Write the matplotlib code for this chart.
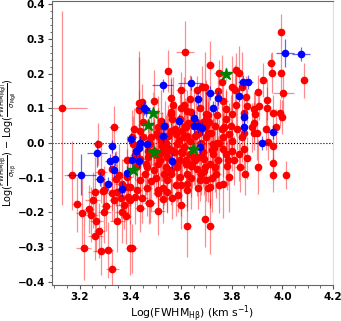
import matplotlib
matplotlib.use("Agg")
import matplotlib.pyplot as plt
from matplotlib.ticker import AutoMinorLocator

# red sample: Log FWHM(Hb), offset, and errors
red_x = [3.130, 3.335, 3.616, 3.548, 3.715, 3.994, 3.954, 3.957, 3.995, 3.922,
         4.086, 4.004, 3.902, 3.940, 3.841, 3.751, 3.761, 3.818, 3.828, 3.600,
         3.661, 3.684, 3.693, 3.802, 3.813, 3.559, 3.745, 3.636, 3.433, 3.434,
         3.445, 3.858, 3.861, 3.850, 3.893, 3.886, 3.909, 3.938, 3.961, 3.991,
         4.000, 3.889, 3.880, 3.976, 3.935, 3.899, 3.886, 3.850, 3.841, 3.944,
         3.848, 3.963, 3.861, 3.902, 3.963, 3.854, 3.963, 4.012,
         # core
         3.482, 3.520, 3.546, 3.584, 3.610, 3.636, 3.700, 3.725, 3.764, 3.790,
         3.802, 3.764, 3.687, 3.636, 3.597, 3.546, 3.507, 3.495, 3.533, 3.584,
         3.623, 3.661, 3.713, 3.745, 3.777, 3.802, 3.828, 3.738, 3.764, 3.700,
         3.623, 3.546, 3.597, 3.713, 3.751, 3.790, 3.834, 3.822, 3.796, 3.777,
         3.802, 3.777, 3.764, 3.815, 3.700, 3.674, 3.623, 3.610, 3.495, 3.629,
         3.604, 3.559, 3.700, 3.770, 3.520, 3.565, 3.661, 3.719, 3.495, 3.572,
         3.655, 3.783, 3.725, 3.610, 3.578, 3.507, 3.809, 3.674, 3.559,
         3.530, 3.590, 3.650, 3.680, 3.740, 3.620, 3.560, 3.470, 3.510, 3.690,
         3.730, 3.670, 3.540, 3.600, 3.760, 3.640, 3.580, 3.710, 3.500, 3.650,
         3.690, 3.620, 3.560, 3.735, 3.600, 3.665, 3.545, 3.785, 3.640, 3.705,
         # left side
         3.271, 3.432, 3.451, 3.419, 3.169, 3.284, 3.329, 3.342, 3.368, 3.400,
         3.438, 3.464, 3.259, 3.297, 3.348, 3.412, 3.438, 3.464, 3.355, 3.387,
         3.387, 3.425, 3.457, 3.438, 3.470, 3.477, 3.406, 3.392, 3.450, 3.415,
         # lower left
         3.188, 3.210, 3.216, 3.261, 3.278, 3.265, 3.236, 3.252, 3.291, 3.297,
         3.304, 3.329, 3.336, 3.365, 3.374, 3.384, 3.389, 3.400, 3.419, 3.425,
         3.445, 3.474, 3.284, 3.312, 3.329, 3.397, 3.406, 3.348, 3.361, 3.246,
         3.438,
         # lower middle
         3.479, 3.510, 3.510, 3.507, 3.527, 3.565, 3.587, 3.601, 3.625, 3.693,
         3.716, 3.546, 3.623, 3.706]
red_y = [0.100, 0.047, 0.262, 0.208, 0.225, 0.321, 0.230, 0.203, 0.201, 0.182,
         0.181, 0.144, 0.147, 0.125, 0.163, 0.201, 0.175, 0.211, 0.201, 0.154,
         0.152, 0.161, 0.163, 0.161, 0.154, 0.130, 0.149, 0.126, 0.116, 0.094,
         0.119, 0.132, 0.107, 0.088, 0.083, 0.097, 0.107, 0.102, 0.088, 0.088,
         0.075, 0.059, 0.045, 0.047, 0.040, 0.030, 0.030, 0.030, 0.016, 0.002,
         -0.017, -0.008, -0.043, -0.068, -0.058, -0.090, -0.091, -0.093,
         # core
         0.016, 0.007, -0.012, -0.003, 0.016, 0.007, 0.016, -0.003, 0.016, 0.026,
         0.007, -0.017, -0.027, -0.031, -0.050, -0.041, -0.060, -0.079, -0.089, -0.070,
         -0.089, -0.074, -0.060, -0.050, -0.031, -0.022, -0.031, -0.089, -0.117, -0.108,
         -0.117, -0.108, -0.098, -0.127, -0.122, -0.098, -0.070, 0.040, 0.050, 0.069,
         0.083, 0.097, 0.121, 0.111, 0.083, 0.102, 0.092, 0.111, 0.121, 0.059,
         0.035, 0.035, 0.050, 0.045, 0.064, 0.069, 0.026, 0.030, -0.022, -0.027,
         -0.050, -0.065, -0.031, -0.012, 0.026, 0.045, -0.050, -0.108, -0.079,
         -0.020, 0.010, -0.040, 0.000, 0.000, -0.060, -0.090, -0.040, 0.020, -0.080,
         -0.015, 0.030, 0.000, -0.025, 0.040, -0.100, -0.060, 0.060, -0.035, 0.065,
         -0.045, 0.045, 0.085, -0.070, -0.120, -0.130, -0.025, -0.050, -0.065, 0.080,
         # left side
         -0.003, 0.097, 0.016, -0.036, -0.093, -0.084, -0.074, -0.103, -0.117, -0.127,
         -0.108, -0.131, -0.141, -0.136, -0.141, -0.003, -0.046, -0.070, -0.093, -0.098,
         -0.050, -0.065, -0.089, 0.035, -0.022, -0.003, 0.016, -0.127, 0.060, 0.040,
         # lower left
         -0.177, -0.202, -0.304, -0.269, -0.253, -0.226, -0.190, -0.164, -0.139, -0.198,
         -0.183, -0.145, -0.164, -0.198, -0.179, -0.212, -0.155, -0.164, -0.155, -0.136,
         -0.160, -0.174, -0.312, -0.309, -0.365, -0.302, -0.304, -0.226, -0.160, -0.207,
         -0.188,
         # lower middle
         -0.172, -0.196, -0.145, -0.136, -0.161, -0.160, -0.150, -0.179, -0.239, -0.219,
         -0.241, -0.141, -0.136, -0.131]
red_xerr = [0.100, 0.020, 0.035, 0.010, 0.015, 0.010, 0.015, 0.010, 0.010, 0.010,
            0.010, 0.040, 0.010, 0.010, 0.010, 0.020, 0.010, 0.010, 0.015, 0.020,
            0.010, 0.010, 0.010, 0.010, 0.010, 0.015, 0.010, 0.010, 0.010, 0.010,
            0.010, 0.010, 0.010, 0.010, 0.010, 0.010, 0.010, 0.010, 0.010, 0.010,
            0.010, 0.010, 0.010, 0.015, 0.010, 0.010, 0.010, 0.010, 0.010, 0.010,
            0.010, 0.010, 0.010, 0.010, 0.010, 0.010, 0.010, 0.010,
            0.015, 0.010, 0.020, 0.010, 0.015, 0.010, 0.010, 0.020, 0.010, 0.015,
            0.010, 0.010, 0.020, 0.010, 0.015, 0.010, 0.020, 0.010, 0.015, 0.010,
            0.010, 0.020, 0.010, 0.015, 0.010, 0.010, 0.010, 0.020, 0.010, 0.015,
            0.010, 0.020, 0.010, 0.010, 0.015, 0.010, 0.020, 0.010, 0.010, 0.015,
            0.010, 0.010, 0.020, 0.010, 0.015, 0.010, 0.010, 0.020, 0.010, 0.010,
            0.015, 0.010, 0.010, 0.020, 0.010, 0.015, 0.010, 0.010, 0.020, 0.010,
            0.015, 0.010, 0.010, 0.020, 0.010, 0.010, 0.015, 0.010, 0.010,
            0.010, 0.015, 0.010, 0.020, 0.010, 0.010, 0.015, 0.010, 0.020, 0.010,
            0.010, 0.015, 0.010, 0.010, 0.020, 0.010, 0.015, 0.010, 0.010, 0.020,
            0.010, 0.015, 0.010, 0.010, 0.020, 0.010, 0.015, 0.010, 0.010, 0.015,
            0.020, 0.015, 0.010, 0.020, 0.030, 0.025, 0.015, 0.020, 0.030, 0.020,
            0.015, 0.020, 0.025, 0.020, 0.030, 0.015, 0.020, 0.015, 0.020, 0.025,
            0.020, 0.015, 0.020, 0.015, 0.010, 0.015, 0.020, 0.020, 0.015, 0.015,
            0.020, 0.025, 0.030, 0.030, 0.020, 0.025, 0.020, 0.030, 0.020, 0.025,
            0.020, 0.030, 0.020, 0.025, 0.030, 0.020, 0.025, 0.020, 0.030, 0.020,
            0.025, 0.020, 0.030, 0.020, 0.025, 0.015, 0.020, 0.030, 0.020, 0.025,
            0.020,
            0.020, 0.025, 0.020, 0.015, 0.020, 0.020, 0.015, 0.020, 0.015, 0.015,
            0.015, 0.020, 0.015, 0.010]
red_yerr = [0.280, 0.060, 0.090, 0.060, 0.070, 0.050, 0.030, 0.060, 0.070, 0.050,
            0.050, 0.070, 0.050, 0.060, 0.100, 0.040, 0.080, 0.050, 0.080, 0.050,
            0.040, 0.060, 0.100, 0.090, 0.070, 0.060, 0.050, 0.070, 0.150, 0.060,
            0.050, 0.060, 0.050, 0.050, 0.060, 0.050, 0.040, 0.060, 0.050, 0.040,
            0.050, 0.060, 0.070, 0.050, 0.060, 0.080, 0.050, 0.060, 0.070, 0.050,
            0.060, 0.050, 0.060, 0.080, 0.050, 0.060, 0.050, 0.040,
            0.080, 0.060, 0.100, 0.070, 0.090, 0.060, 0.110, 0.080, 0.070, 0.090,
            0.060, 0.080, 0.100, 0.070, 0.090, 0.060, 0.080, 0.070, 0.090, 0.100,
            0.060, 0.080, 0.120, 0.070, 0.090, 0.060, 0.080, 0.070, 0.100, 0.060,
            0.080, 0.090, 0.070, 0.060, 0.080, 0.100, 0.070, 0.060, 0.090, 0.080,
            0.070, 0.060, 0.080, 0.090, 0.100, 0.070, 0.060, 0.080, 0.090, 0.070,
            0.060, 0.080, 0.100, 0.070, 0.090, 0.060, 0.080, 0.070, 0.090, 0.060,
            0.080, 0.070, 0.100, 0.060, 0.080, 0.090, 0.070, 0.060, 0.080,
            0.090, 0.070, 0.080, 0.060, 0.100, 0.070, 0.090, 0.060, 0.080, 0.070,
            0.090, 0.060, 0.080, 0.100, 0.070, 0.090, 0.060, 0.080, 0.070, 0.090,
            0.060, 0.080, 0.100, 0.070, 0.090, 0.060, 0.080, 0.070, 0.090, 0.060,
            0.060, 0.150, 0.080, 0.070, 0.100, 0.090, 0.120, 0.080, 0.070, 0.090,
            0.060, 0.080, 0.100, 0.070, 0.090, 0.080, 0.060, 0.070, 0.090, 0.080,
            0.070, 0.060, 0.080, 0.090, 0.070, 0.060, 0.080, 0.090, 0.070, 0.060,
            0.080, 0.100, 0.090, 0.070, 0.080, 0.090, 0.070, 0.080, 0.060, 0.090,
            0.070, 0.080, 0.060, 0.090, 0.070, 0.080, 0.060, 0.070, 0.080, 0.060,
            0.070, 0.060, 0.070, 0.080, 0.060, 0.080, 0.070, 0.090, 0.060, 0.080,
            0.070,
            0.060, 0.070, 0.060, 0.050, 0.070, 0.060, 0.050, 0.070, 0.090, 0.080,
            0.080, 0.060, 0.050, 0.040]

# extra red points in the crowded centre
core_x = [3.475, 3.490, 3.505, 3.515, 3.525, 3.535, 3.550, 3.565, 3.575, 3.585,
          3.595, 3.605, 3.615, 3.625, 3.645, 3.655, 3.670, 3.685, 3.695, 3.705,
          3.720, 3.735, 3.750, 3.480, 3.500, 3.520, 3.540, 3.560, 3.580, 3.600,
          3.620, 3.640, 3.660, 3.680, 3.700, 3.720, 3.740, 3.460, 3.530, 3.570]
core_y = [0.000, -0.030, 0.030, -0.050, -0.010, 0.050, 0.020, -0.020, 0.040, -0.060,
          0.070, -0.030, 0.050, 0.020, -0.060, 0.020, -0.040, 0.060, -0.070, 0.030,
          -0.020, 0.050, 0.000, -0.110, -0.100, -0.030, -0.070, 0.090, -0.120, 0.100,
          -0.050, 0.090, 0.060, -0.090, 0.070, -0.100, 0.080, -0.060, -0.130, 0.110]
core_xerr = [0.010, 0.015, 0.010, 0.020, 0.010, 0.015, 0.010, 0.010, 0.020, 0.010,
             0.015, 0.010, 0.010, 0.020, 0.010, 0.015, 0.010, 0.010, 0.020, 0.010,
             0.015, 0.010, 0.010, 0.020, 0.010, 0.015, 0.010, 0.010, 0.020, 0.010,
             0.015, 0.010, 0.010, 0.020, 0.010, 0.015, 0.010, 0.010, 0.020, 0.010]
core_yerr = [0.070, 0.090, 0.060, 0.080, 0.100, 0.070, 0.090, 0.060, 0.080, 0.070,
             0.100, 0.060, 0.080, 0.090, 0.070, 0.060, 0.080, 0.100, 0.070, 0.090,
             0.060, 0.080, 0.070, 0.090, 0.060, 0.080, 0.100, 0.070, 0.090, 0.060,
             0.080, 0.070, 0.090, 0.060, 0.080, 0.100, 0.070, 0.090, 0.060, 0.080]

# blue sample
blue_x = [3.527, 3.638, 3.713, 3.668, 3.747, 3.845, 3.863, 3.828, 4.011, 4.073,
          3.453, 3.460, 3.533, 3.651, 3.726, 3.848, 3.850, 3.961, 3.591, 3.649,
          3.668, 3.681, 3.527, 3.403, 3.920, 3.326, 3.267, 3.319, 3.338, 3.206,
          3.281, 3.313, 3.335, 3.367, 3.388, 3.405, 3.433, 3.424, 3.433, 3.437,
          3.467, 3.565, 3.674]
blue_y = [0.166, 0.173, 0.144, 0.128, 0.130, 0.175, 0.175, 0.137, 0.259, 0.257,
          0.100, 0.094, 0.049, 0.073, 0.102, 0.075, 0.047, 0.032, 0.064, 0.049,
          0.049, 0.042, 0.021, 0.013, -0.001, -0.010, -0.030, -0.052, -0.046, -0.091,
          -0.103, -0.117, -0.077, -0.133, -0.086, -0.050, -0.052, -0.022, -0.015, -0.001,
          -0.003, -0.052, -0.012]
blue_xerr = [0.040, 0.050, 0.020, 0.015, 0.015, 0.020, 0.020, 0.010, 0.035, 0.035,
             0.025, 0.020, 0.015, 0.010, 0.010, 0.010, 0.010, 0.020, 0.015, 0.010,
             0.010, 0.010, 0.020, 0.015, 0.030, 0.015, 0.040, 0.020, 0.015, 0.058,
             0.020, 0.015, 0.010, 0.015, 0.010, 0.010, 0.010, 0.010, 0.010, 0.010,
             0.015, 0.015, 0.015]
blue_yerr = [0.020, 0.020, 0.020, 0.020, 0.020, 0.020, 0.020, 0.020, 0.040, 0.020,
             0.020, 0.020, 0.020, 0.020, 0.020, 0.020, 0.020, 0.020, 0.020, 0.020,
             0.020, 0.020, 0.020, 0.020, 0.020, 0.020, 0.040, 0.020, 0.020, 0.060,
             0.020, 0.020, 0.020, 0.020, 0.020, 0.020, 0.020, 0.020, 0.020, 0.020,
             0.020, 0.020, 0.020]

# green stars
green_x = [3.777, 3.488, 3.469, 3.412, 3.492, 3.646]
green_y = [0.200, 0.088, 0.052, -0.077, -0.025, -0.017]
green_xerr = [0.020, 0.040, 0.040, 0.020, 0.030, 0.020]
green_yerr = [0.020, 0.060, 0.020, 0.020, 0.020, 0.020]

all_red_x = red_x + core_x
all_red_y = red_y + core_y
all_red_xerr = red_xerr + core_xerr
all_red_yerr = red_yerr + core_yerr

fig = plt.figure(figsize=(3.41, 3.21), dpi=100)
ax = fig.add_axes([0.152, 0.112, 0.825, 0.885])

ax.errorbar(all_red_x, all_red_y, xerr=all_red_xerr, yerr=all_red_yerr, fmt="none",
            ecolor="red", elinewidth=0.9, alpha=0.45, zorder=1)
ax.plot(all_red_x, all_red_y, "o", color="red", ms=4.5, zorder=2)

ax.errorbar(blue_x, blue_y, xerr=blue_xerr, yerr=blue_yerr, fmt="none",
            ecolor="blue", elinewidth=0.9, alpha=0.6, zorder=3)
ax.plot(blue_x, blue_y, "o", color="blue", ms=4.5, zorder=4)

ax.errorbar(green_x, green_y, xerr=green_xerr, yerr=green_yerr, fmt="none",
            ecolor="green", elinewidth=0.9, alpha=0.35, zorder=5)
ax.plot(green_x, green_y, "*", color="green", ms=9, zorder=6)

ax.axhline(0, color="black", ls=":", lw=0.8, zorder=0)

ax.set_xlim(3.09, 4.2)
ax.set_ylim(-0.41, 0.41)
ax.set_yticks([-0.4, -0.3, -0.2, -0.1, 0.0, 0.1, 0.2, 0.3, 0.4])
ax.set_xticks([3.2, 3.4, 3.6, 3.8, 4.0, 4.2])
ax.xaxis.set_minor_locator(AutoMinorLocator(4))
ax.yaxis.set_minor_locator(AutoMinorLocator(5))
ax.tick_params(which="both", direction="out", colors="#555555", labelcolor="black",
               labelsize=7.5, pad=2)
ax.tick_params(which="major", length=3)
ax.tick_params(which="minor", length=1.8)
for lab in ax.get_xticklabels() + ax.get_yticklabels():
    lab.set_fontweight("bold")
for sp in ax.spines.values():
    sp.set_color("#666666")
ax.spines["right"].set_color("#dddddd")

ax.set_xlabel(r"Log(FWHM$_{\mathrm{H\beta}}$) (km s$^{-1}$)", fontsize=7.8)
ax.xaxis.set_label_coords(0.5, -0.062)
ax.set_ylabel(r"Log($\frac{\mathrm{FWHM_{H\beta}}}{\sigma_{\mathrm{H\beta}}}$) $-$ "
              r"Log($\frac{\mathrm{FWHM_{MgII}}}{\sigma_{\mathrm{MgII}}}$)",
              fontsize=7.0)
ax.yaxis.set_label_coords(-0.117, 0.5)

fig.savefig("out.png", dpi=100)
